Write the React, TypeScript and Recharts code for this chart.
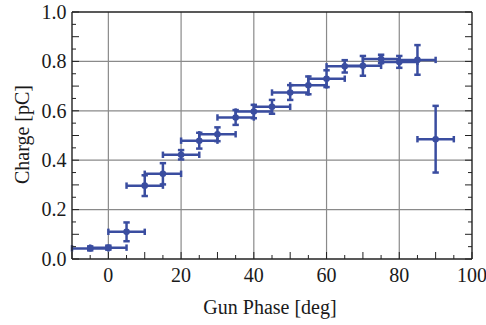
import React from 'react';
import { ScatterChart, Scatter, XAxis, YAxis, ErrorBar, ReferenceLine } from 'recharts';

const phases = [-5, 0, 5, 10, 15, 20, 25, 30, 35, 40, 45, 50, 55, 60, 65, 70, 75, 80, 85, 90];
const charges = [0.043, 0.046, 0.11, 0.297, 0.345, 0.422, 0.479, 0.505, 0.573, 0.597, 0.616, 0.674, 0.703, 0.73, 0.78, 0.782, 0.81, 0.798, 0.806, 0.485];
const chargeErrors = [0.008, 0.008, 0.038, 0.042, 0.043, 0.019, 0.032, 0.028, 0.03, 0.027, 0.028, 0.03, 0.036, 0.034, 0.025, 0.04, 0.017, 0.024, 0.06, 0.135];
const phaseErrors = [5, 5, 5, 5, 5, 5, 5, 5, 5, 5, 5, 5, 5, 5, 5, 5, 5, 5, 5, 5];

const xTicks = [-10, -5, 0, 5, 10, 15, 20, 25, 30, 35, 40, 45, 50, 55, 60, 65, 70, 75, 80, 85, 90, 95, 100];
const xLabelTicks = [0, 20, 40, 60, 80, 100];
const yTicks = [0, 0.05, 0.1, 0.15, 0.2, 0.25, 0.3, 0.35, 0.4, 0.45, 0.5, 0.55, 0.6, 0.65, 0.7, 0.75, 0.8, 0.85, 0.9, 0.95, 1];
const xGrid = [0, 20, 40, 60, 80];
const yGrid = [0.2, 0.4, 0.6, 0.8];

const data = phases.map((p, i) => ({ x: p, y: charges[i], ex: phaseErrors[i], ey: chargeErrors[i] }));

const BLUE = '#3a4da0';
const FONT = '"Liberation Serif", "DejaVu Serif", serif';
const TICK_FS = 20;
const LABEL_FS = 20;
const TEXT = '#1a1a1a';

const isMajorX = (v: number) => xLabelTicks.includes(v);
const yLabelFor = (v: number) => {
  const s = v.toFixed(1);
  return Math.abs(v * 5 - Math.round(v * 5)) < 1e-6 ? s : null;
};

const BottomTick = (props: any) => {
  const { x, y, payload } = props;
  const v = payload.value;
  const major = v % 10 === 0;
  return (
    <g>
      <line x1={x} x2={x} y1={y} y2={y - (major ? 7 : 4)} stroke="#222" strokeWidth={1} />
      {isMajorX(v) && (
        <text x={x} y={y + 23} textAnchor="middle" fontSize={TICK_FS} fontFamily={FONT} fill={TEXT}>
          {v}
        </text>
      )}
    </g>
  );
};

const TopTick = (props: any) => {
  const { x, y, payload } = props;
  const major = payload.value % 10 === 0;
  return <line x1={x} x2={x} y1={y} y2={y + (major ? 7 : 4)} stroke="#222" strokeWidth={1} />;
};

const LeftTick = (props: any) => {
  const { x, y, payload } = props;
  const v = payload.value;
  const lab = yLabelFor(v);
  const major = Math.abs(v * 10 - Math.round(v * 10)) < 1e-6;
  return (
    <g>
      <line x1={x} x2={x + (major ? 7 : 4)} y1={y} y2={y} stroke="#222" strokeWidth={1} />
      {lab !== null && (
        <text x={x - 5.5} y={y} dy="0.34em" textAnchor="end" fontSize={TICK_FS} fontFamily={FONT} fill={TEXT}>
          {lab}
        </text>
      )}
    </g>
  );
};

const RightTick = (props: any) => {
  const { x, y, payload } = props;
  const v = payload.value;
  const major = Math.abs(v * 10 - Math.round(v * 10)) < 1e-6;
  return <line x1={x} x2={x - (major ? 7 : 4)} y1={y} y2={y} stroke="#222" strokeWidth={1} />;
};

const YLabel = (props: any) => {
  const { viewBox } = props;
  const cy = viewBox.y + viewBox.height / 2 - 1;
  const cx = 29;
  return (
    <text x={cx} y={cy} transform={`rotate(-90 ${cx} ${cy})`} textAnchor="middle" fontSize={LABEL_FS} fontFamily={FONT} fill={TEXT}>
      Charge [pC]
    </text>
  );
};

const XLabel = (props: any) => {
  const { viewBox } = props;
  const cx = viewBox.x + viewBox.width / 2 - 2;
  return (
    <text x={cx} y={314} textAnchor="middle" fontSize={LABEL_FS} fontFamily={FONT} fill={TEXT}>
      Gun Phase [deg]
    </text>
  );
};

export default function App() {
  return (
    <div style={{ position: 'absolute', left: 0, top: 0, background: '#fff' }}>
      <ScatterChart width={486} height={325} margin={{ top: 10, right: 12, bottom: 0, left: 12 }}>
        <XAxis
          xAxisId={0}
          dataKey="x"
          type="number"
          domain={[-10, 100]}
          allowDataOverflow
          ticks={xTicks}
          interval={0}
          tickSize={0}
          tickMargin={0}
          tick={<BottomTick />}
          axisLine={{ stroke: '#222', strokeWidth: 1.4 }}
          height={66}
          label={<XLabel />}
        />
        <XAxis
          xAxisId="top"
          orientation="top"
          type="number"
          domain={[-10, 100]}
          allowDataOverflow
          ticks={xTicks}
          interval={0}
          tickSize={0}
          tickMargin={0}
          tick={<TopTick />}
          axisLine={{ stroke: '#222', strokeWidth: 1.4 }}
          height={2}
        />
        <YAxis
          yAxisId={0}
          dataKey="y"
          type="number"
          domain={[0, 1]}
          allowDataOverflow
          ticks={yTicks}
          interval={0}
          tickSize={0}
          tickMargin={0}
          tick={<LeftTick />}
          axisLine={{ stroke: '#222', strokeWidth: 1.4 }}
          width={60}
          label={<YLabel />}
        />
        <YAxis
          yAxisId="right"
          orientation="right"
          type="number"
          domain={[0, 1]}
          allowDataOverflow
          ticks={yTicks}
          interval={0}
          tickSize={0}
          tickMargin={0}
          tick={<RightTick />}
          axisLine={{ stroke: '#222', strokeWidth: 1.4 }}
          width={2}
        />
        {xGrid.map((g) => (
          <ReferenceLine key={'gx' + g} x={g} xAxisId={0} yAxisId={0} stroke="#8a8a8a" strokeWidth={1.2} />
        ))}
        {yGrid.map((g) => (
          <ReferenceLine key={'gy' + g} y={g} xAxisId={0} yAxisId={0} stroke="#8a8a8a" strokeWidth={1.2} />
        ))}
        <Scatter data={data} xAxisId={0} yAxisId={0} fill={BLUE} isAnimationActive={false} shape={(p: any) => <circle cx={p.cx} cy={p.cy} r={3.3} fill={BLUE} />}>
          <ErrorBar dataKey="ex" direction="x" width={3.2} stroke={BLUE} strokeWidth={2.5} isAnimationActive={false} />
          <ErrorBar dataKey="ey" direction="y" width={3.2} stroke={BLUE} strokeWidth={2.5} isAnimationActive={false} />
        </Scatter>
      </ScatterChart>
    </div>
  );
}
